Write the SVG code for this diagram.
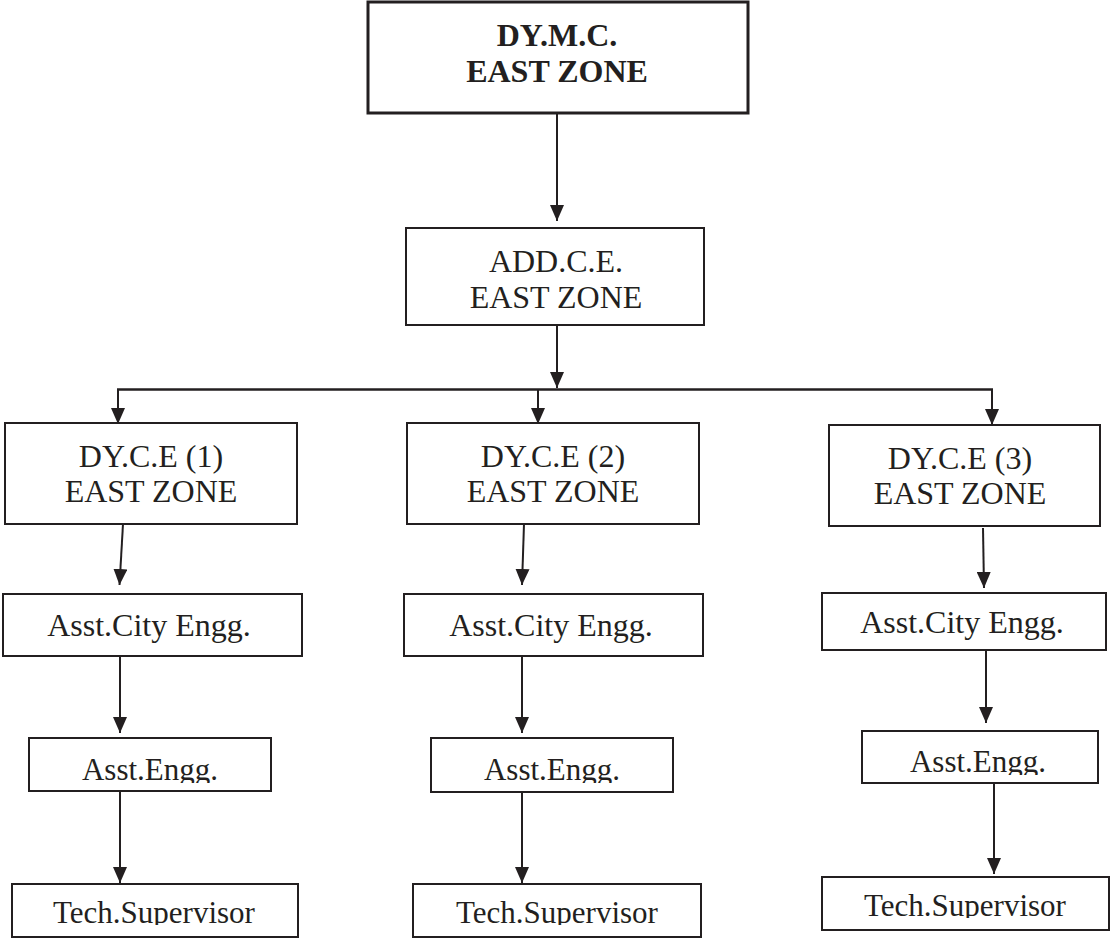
<svg xmlns="http://www.w3.org/2000/svg" width="1111" height="940" viewBox="0 0 1111 940">
<style>
.box{fill:#fff;stroke:#231f20;stroke-width:2}
.top{fill:#fff;stroke:#231f20;stroke-width:3}
.t{font-family:"Liberation Serif","Times New Roman",serif;font-size:32px;fill:#231f20;text-anchor:middle}
.s{font-size:31px}
.b{font-weight:bold;font-size:32px}
.c{stroke:#231f20;stroke-width:2;fill:none;marker-end:url(#ah)}
.l{stroke:#231f20;stroke-width:2.5;fill:none}
</style>
<defs>
<marker id="ah" markerUnits="userSpaceOnUse" markerWidth="16" markerHeight="14" refX="16" refY="7" orient="auto">
<path d="M0,0 L16,7 L0,14 z" fill="#231f20"/>
</marker>
<clipPath id="k1"><rect x="0" y="730" width="1111" height="53"/></clipPath>
<clipPath id="k2"><rect x="0" y="720" width="1111" height="55"/></clipPath>
<clipPath id="k3"><rect x="0" y="880" width="1111" height="45"/></clipPath>
<clipPath id="k4"><rect x="0" y="870" width="1111" height="48"/></clipPath>
</defs>
<rect width="1111" height="940" fill="#fff"/>
<g id="connectors">
<line class="c" x1="557" y1="113" x2="557" y2="221"/>
<line class="c" x1="557" y1="326" x2="557" y2="388"/>
<line class="l" x1="117" y1="389.5" x2="993" y2="389.5"/>
<line class="c" x1="118" y1="389" x2="118" y2="424"/>
<line class="c" x1="538" y1="390" x2="538" y2="424"/>
<line class="c" x1="992" y1="389" x2="992" y2="425"/>
<line class="c" x1="123" y1="524" x2="119.5" y2="585"/>
<line class="c" x1="524" y1="524" x2="522" y2="585"/>
<line class="c" x1="983" y1="528" x2="984" y2="588"/>
<line class="c" x1="120" y1="656" x2="120" y2="733"/>
<line class="c" x1="522" y1="656" x2="522" y2="733"/>
<line class="c" x1="986" y1="650" x2="986" y2="723"/>
<line class="c" x1="120" y1="792" x2="120" y2="883"/>
<line class="c" x1="522" y1="792" x2="522" y2="883"/>
<line class="c" x1="994" y1="783" x2="994" y2="874"/>
</g>
<g id="dymc">
<rect class="top" x="368" y="2" width="380" height="111"/>
<text class="t b" x="557" y="46">DY.M.C.</text>
<text class="t b" x="557" y="82">EAST ZONE</text>
</g>
<g id="addce">
<rect class="box" x="406" y="228" width="298" height="97"/>
<text class="t" x="556" y="272">ADD.C.E.</text>
<text class="t" x="556" y="308">EAST ZONE</text>
</g>
<g id="dyce1">
<rect class="box" x="5" y="423" width="292" height="101"/>
<text class="t" x="151" y="467">DY.C.E (1)</text>
<text class="t" x="151" y="502">EAST ZONE</text>
</g>
<g id="dyce2">
<rect class="box" x="407" y="423" width="292" height="101"/>
<text class="t" x="553" y="467">DY.C.E (2)</text>
<text class="t" x="553" y="502">EAST ZONE</text>
</g>
<g id="dyce3">
<rect class="box" x="829" y="425" width="271" height="101"/>
<text class="t" x="960" y="469">DY.C.E (3)</text>
<text class="t" x="960" y="504">EAST ZONE</text>
</g>
<g id="ace1">
<rect class="box" x="3" y="594" width="299" height="62"/>
<text class="t" x="149" y="636">Asst.City Engg.</text>
</g>
<g id="ace2">
<rect class="box" x="404" y="594" width="299" height="62"/>
<text class="t" x="551" y="636">Asst.City Engg.</text>
</g>
<g id="ace3">
<rect class="box" x="822" y="593" width="284" height="57"/>
<text class="t" x="962" y="633">Asst.City Engg.</text>
</g>
<g id="ae1">
<rect class="box" x="29" y="738" width="242" height="53"/>
<text class="t s" x="150" y="780" clip-path="url(#k1)">Asst.Engg.</text>
</g>
<g id="ae2">
<rect class="box" x="431" y="738" width="242" height="54"/>
<text class="t s" x="552" y="780" clip-path="url(#k1)">Asst.Engg.</text>
</g>
<g id="ae3">
<rect class="box" x="862" y="731" width="236" height="52"/>
<text class="t s" x="978" y="772" clip-path="url(#k2)">Asst.Engg.</text>
</g>
<g id="ts1">
<rect class="box" x="12" y="884" width="286" height="53"/>
<text class="t s" x="154" y="923" clip-path="url(#k3)">Tech.Supervisor</text>
</g>
<g id="ts2">
<rect class="box" x="413" y="884" width="288" height="53"/>
<text class="t s" x="557" y="923" clip-path="url(#k3)">Tech.Supervisor</text>
</g>
<g id="ts3">
<rect class="box" x="822" y="877" width="287" height="53"/>
<text class="t s" x="965" y="916" clip-path="url(#k4)">Tech.Supervisor</text>
</g>
</svg>
